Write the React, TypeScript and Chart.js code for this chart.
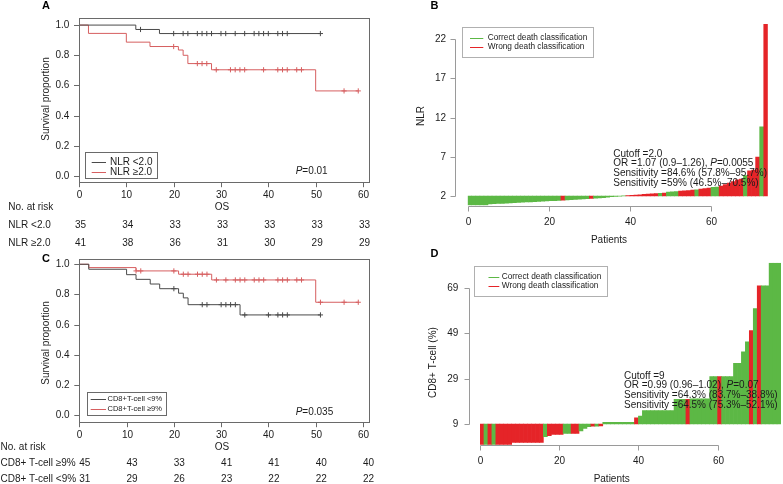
import { useEffect, useRef } from "react";
import { Chart, registerables } from "chart.js";

Chart.register(...registerables);

// ---------------- data ----------------
const kmTimeTicks = [0, 10, 20, 30, 40, 50, 60];
const kmSurvTicks = [0, 0.2, 0.4, 0.6, 0.8, 1.0];
const kmSurvTickLabels = ["0.0", "0.2", "0.4", "0.6", "0.8", "1.0"];

// Panel A: NLR
const nlrLowTimes = [0, 12, 17, 51];
const nlrLowSurv = [1, 0.971, 0.944, 0.944];
const nlrLowCensor = [13, 20, 22, 23, 25, 26, 27, 28, 30, 31, 33, 35, 37, 38, 39, 40, 42, 43, 44, 51];
const nlrHighTimes = [0, 2, 10, 15, 21, 22, 23, 28, 50, 59];
const nlrHighSurv = [1, 0.945, 0.887, 0.858, 0.835, 0.8, 0.745, 0.704, 0.564, 0.564];
const nlrHighCensor = [20, 25, 26, 27, 29, 32, 33, 34, 35, 39, 42, 43, 44, 46, 47, 56, 59];
const riskNlrLow = [35, 34, 33, 33, 33, 33, 33];
const riskNlrHigh = [41, 38, 36, 31, 30, 29, 29];

// Panel C: CD8+ T-cell
const cd8LowTimes = [0, 2, 10, 12, 15, 17, 21, 22, 23, 34, 51];
const cd8LowSurv = [1, 0.967, 0.931, 0.9, 0.869, 0.838, 0.808, 0.777, 0.732, 0.664, 0.664];
const cd8LowCensor = [20, 26, 27, 30, 31, 32, 33, 35, 40, 42, 43, 44, 51];
const cd8HighTimes = [0, 2, 12, 21, 28, 50, 59];
const cd8HighSurv = [1, 0.978, 0.956, 0.934, 0.896, 0.748, 0.748];
const cd8HighCensor = [12, 13, 20, 22, 23, 25, 26, 27, 29, 31, 33, 34, 35, 37, 38, 39, 42, 43, 44, 46, 47, 51, 56, 59];
const riskCd8High = [45, 43, 33, 41, 41, 40, 40];
const riskCd8Low = [31, 29, 26, 23, 22, 22, 22];

// Panel B: NLR waterfall (baseline = cutoff 2.0)
const patientTicks = [0, 20, 40, 60];
const nlrCutoff = 2.0;
const nlrYTicks = [2, 7, 12, 17, 22];
const nlrValues = [
  0.85, 0.85, 0.86, 0.86, 0.87, 0.98, 1.01, 1.04, 1.07, 1.1,
  1.13, 1.15, 1.18, 1.2, 1.23, 1.25, 1.28, 1.3, 1.33, 1.36,
  1.39, 1.42, 1.45, 1.48, 1.5, 1.53, 1.56, 1.59, 1.62, 1.65,
  1.68, 1.72, 1.76, 1.8, 1.85, 1.9, 1.96, 1.99, 2.02, 2.05,
  2.08, 2.12, 2.16, 2.2, 2.24, 2.28, 2.32, 2.35, 2.38, 2.5,
  2.52, 2.55, 2.62, 2.66, 2.7, 2.75, 2.8, 2.88, 2.95, 3.0,
  3.1, 3.15, 3.25, 3.45, 3.65, 3.85, 4.05, 4.15, 4.6, 5.2,
  5.3, 6.95, 10.8, 23.9,
];
const nlrClass = [
  "C", "C", "C", "C", "C", "C", "C", "C", "C", "C",
  "C", "C", "C", "C", "C", "C", "C", "C", "C", "C",
  "C", "C", "C", "W", "C", "C", "C", "C", "C", "C",
  "W", "C", "C", "C", "C", "C", "C", "C", "C", "W",
  "W", "W", "W", "W", "W", "W", "W", "C", "W", "C",
  "C", "C", "W", "W", "W", "W", "C", "W", "W", "W",
  "C", "C", "W", "W", "W", "W", "W", "W", "C", "W",
  "W", "W", "C", "W",
];

// Panel D: CD8+ T-cell waterfall (baseline = cutoff 9)
const cd8Cutoff = 9;
const cd8YTicks = [9, 29, 49, 69];
const cd8Values = [
  0, 0, 0, 0, 0, 0, 0, 0, 0.9, 0.9,
  0.9, 0.9, 0.9, 0.9, 0.9, 0.9, 3.4, 3.9, 4.4, 4.4,
  4.4, 4.9, 4.9, 4.9, 4.9, 5.9, 7.1, 7.8, 8.1, 8.1,
  8.2, 9.7, 9.7, 9.7, 9.7, 9.7, 9.7, 9.7, 9.7, 11.7,
  12.5, 14.9, 14.9, 14.9, 14.9, 14.9, 14.9, 14.9, 14.9, 19.9,
  19.9, 19.9, 19.9, 20.1, 20.1, 20.1, 20.1, 20.1, 29.9, 29.9,
  29.9, 29.9, 29.9, 29.9, 35.8, 35.8, 40.9, 45.3, 50.2, 60,
  70, 70, 70, 80, 80, 80,
];
const cd8Class = [
  "W", "C", "W", "C", "W", "W", "W", "W", "W", "W",
  "W", "W", "W", "W", "W", "W", "C", "W", "W", "W",
  "W", "C", "C", "W", "W", "C", "C", "C", "W", "C",
  "W", "C", "C", "C", "C", "C", "C", "C", "C", "W",
  "C", "C", "C", "C", "C", "C", "C", "C", "C", "C",
  "C", "C", "W", "C", "C", "C", "C", "C", "C", "C",
  "W", "C", "C", "C", "C", "C", "C", "C", "W", "C",
  "W", "C", "C", "C", "C", "C",
];

// ---------------- styles / layout ----------------
const W = 783;
const H = 484;
const FONT = '"Liberation Sans", Arial, Helvetica, sans-serif';
const TXT = "#1c1c1c";
const KM_BLACK = "#4a4a4a";
const KM_RED = "#d65f60";
const BAR_GREEN = "#5cb845";
const BAR_RED = "#e52428";
const BOX = "#6a6a6a";
const AXIS_LIGHT = "#9a9a9a";

type Ctx = CanvasRenderingContext2D;

function txt(ctx: Ctx, s: string, x: number, y: number, size: number, align: CanvasTextAlign = "left", style = "", color = TXT) {
  ctx.font = `${style ? style + " " : ""}${size}px ${FONT}`;
  ctx.fillStyle = color;
  ctx.textAlign = align;
  ctx.textBaseline = "middle";
  ctx.fillText(s, x, y);
}
function vtxt(ctx: Ctx, s: string, x: number, y: number, size: number) {
  ctx.save();
  ctx.translate(x, y);
  ctx.rotate(-Math.PI / 2);
  txt(ctx, s, 0, 0, size, "center");
  ctx.restore();
}
function rich(ctx: Ctx, parts: [string, boolean][], x: number, y: number, size: number) {
  let cx = x;
  for (const [s, it] of parts) {
    txt(ctx, s, cx, y, size, "left", it ? "italic" : "");
    cx += ctx.measureText(s).width;
  }
}
function seg(ctx: Ctx, x1: number, y1: number, x2: number, y2: number, color: string, w = 1) {
  ctx.beginPath();
  ctx.strokeStyle = color;
  ctx.lineWidth = w;
  ctx.moveTo(x1, y1);
  ctx.lineTo(x2, y2);
  ctx.stroke();
}
const px = (v: number) => Math.round(v) + 0.5;

function survAt(times: number[], surv: number[], t: number) {
  let s = surv[0];
  for (let i = 0; i < times.length; i++) if (times[i] <= t) s = surv[i];
  return s;
}

type KMPanel = {
  letter: string;
  letterPos: [number, number];
  area: { left: number; right: number; top: number; bottom: number };
  xMax: number;
  yMin: number;
  yMax: number;
  curves: { times: number[]; surv: number[]; censor: number[]; color: string }[];
  legend: { box: [number, number, number, number]; items: { label: string; color: string; y: number }[]; lineX: [number, number]; textX: number; size: number };
  pText: { parts: [string, boolean][]; x: number; y: number };
  titleY: number;
  osY: number;
  noRiskX: number;
  rows: { label: string; values: number[]; y: number }[];
  riskOffset: number;
};

function makeKM(canvas: HTMLCanvasElement, p: KMPanel) {
  const datasets: any[] = [];
  p.curves.forEach((c) => {
    datasets.push({
      data: c.times.map((t, i) => ({ x: t, y: c.surv[i] })),
      borderColor: c.color,
      borderWidth: 1,
      pointRadius: 0,
      stepped: "before",
      fill: false,
    });
  });
  p.curves.forEach((c) => {
    datasets.push({
      data: c.censor.map((t) => ({ x: t, y: survAt(c.times, c.surv, t) })),
      showLine: false,
      pointStyle: "cross",
      pointRadius: 2.6,
      pointBorderWidth: 1,
      borderColor: c.color,
      backgroundColor: c.color,
    });
  });
  const a = p.area;
  return new Chart(canvas, {
    type: "line",
    data: { datasets },
    options: {
      responsive: false,
      animation: false,
      events: [],
      layout: { padding: { left: a.left, right: W - a.right, top: a.top, bottom: H - a.bottom } },
      scales: {
        x: { type: "linear", min: 0, max: p.xMax, display: false },
        y: { type: "linear", min: p.yMin, max: p.yMax, display: false },
      },
      plugins: { legend: { display: false }, tooltip: { enabled: false } },
    },
    plugins: [
      {
        id: "kmDecor",
        afterDraw(chart: any) {
          const ctx: Ctx = chart.ctx;
          const ca = chart.chartArea;
          const xs = chart.scales.x;
          const ys = chart.scales.y;
          ctx.save();
          ctx.strokeStyle = BOX;
          ctx.lineWidth = 1;
          ctx.strokeRect(px(ca.left), px(ca.top), Math.round(ca.right - ca.left), Math.round(ca.bottom - ca.top));
          kmSurvTicks.forEach((v, i) => {
            const y = px(ys.getPixelForValue(v));
            seg(ctx, ca.left - 5, y, ca.left, y, BOX);
            txt(ctx, kmSurvTickLabels[i], ca.left - 9.7, y, 10, "right");
          });
          kmTimeTicks.forEach((t) => {
            const x = px(xs.getPixelForValue(t));
            seg(ctx, x, ca.bottom, x, ca.bottom + 4.5, BOX);
            txt(ctx, String(t), x, ca.bottom + 12.3, 10, "center");
          });
          vtxt(ctx, "Survival proportion", 46.7, p.titleY, 10);
          txt(ctx, p.letter, p.letterPos[0], p.letterPos[1], 11, "center", "bold", "#000");
          // legend
          const [bx, by, bw, bh] = p.legend.box;
          ctx.fillStyle = "#fff";
          ctx.fillRect(bx, by, bw, bh);
          ctx.strokeStyle = BOX;
          ctx.strokeRect(px(bx), px(by), Math.round(bw), Math.round(bh));
          p.legend.items.forEach((it) => {
            seg(ctx, p.legend.lineX[0], px(it.y), p.legend.lineX[1], px(it.y), it.color);
            txt(ctx, it.label, p.legend.textX, it.y, p.legend.size, "left");
          });
          rich(ctx, p.pText.parts, p.pText.x, p.pText.y, 10);
          // at-risk table
          txt(ctx, "No. at risk", p.noRiskX, p.osY, 10, "left");
          txt(ctx, "OS", 222, p.osY, 10, "center");
          p.rows.forEach((r) => {
            txt(ctx, r.label, p.noRiskX, r.y, 10, "left");
            r.values.forEach((v, i) => {
              txt(ctx, String(v), xs.getPixelForValue(kmTimeTicks[i]) + p.riskOffset, r.y, 10, "center");
            });
          });
          ctx.restore();
        },
      },
    ],
  } as any);
}

type WFPanel = {
  letter: string;
  letterPos: [number, number];
  area: { left: number; right: number; top: number; bottom: number };
  n: number;
  yMin: number;
  yMax: number;
  base: number;
  values: number[];
  cls: string[];
  yTicks: number[];
  axisX: number;
  axisY: number;
  yLabelGap: number;
  xLabelY: number;
  xTitleY: number;
  xTitleX: number;
  yTitle: string;
  yTitlePos: [number, number];
  legend: { box: [number, number, number, number]; y: [number, number]; lineX: [number, number]; textX: number };
  notes: { parts: [string, boolean][]; y: number }[];
  notesX: number;
};

function makeWaterfall(canvas: HTMLCanvasElement, p: WFPanel) {
  const a = p.area;
  return new Chart(canvas, {
    type: "bar",
    data: {
      datasets: [
        {
          data: p.values.map((v, i) => ({ x: i + 0.5, y: [p.base, v] })),
          backgroundColor: p.cls.map((c) => (c === "W" ? BAR_RED : BAR_GREEN)),
          borderWidth: 0,
          barPercentage: 1,
          categoryPercentage: 1,
          grouped: false,
        },
      ],
    },
    options: {
      responsive: false,
      animation: false,
      events: [],
      layout: { padding: { left: a.left, right: W - a.right, top: a.top, bottom: H - a.bottom } },
      scales: {
        x: { type: "linear", min: 0, max: p.n, offset: false, display: false },
        y: { type: "linear", min: p.yMin, max: p.yMax, display: false },
      },
      plugins: { legend: { display: false }, tooltip: { enabled: false } },
    },
    plugins: [
      {
        id: "wfDecor",
        afterDraw(chart: any) {
          const ctx: Ctx = chart.ctx;
          const xs = chart.scales.x;
          const ys = chart.scales.y;
          ctx.save();
          // y axis
          const ax = px(p.axisX);
          const yTop = ys.getPixelForValue(p.yTicks[p.yTicks.length - 1]);
          const yBot = ys.getPixelForValue(p.yTicks[0]);
          seg(ctx, ax, px(yTop), ax, px(yBot), AXIS_LIGHT);
          p.yTicks.forEach((v) => {
            const y = px(ys.getPixelForValue(v));
            seg(ctx, ax - 5, y, ax, y, AXIS_LIGHT);
            txt(ctx, String(v), p.axisX - p.yLabelGap, y, 10, "right");
          });
          // x axis
          const ay = px(p.axisY);
          const x0 = xs.getPixelForValue(patientTicks[0]);
          const x1 = xs.getPixelForValue(patientTicks[patientTicks.length - 1]);
          seg(ctx, px(x0), ay, px(x1), ay, AXIS_LIGHT);
          patientTicks.forEach((t) => {
            const x = px(xs.getPixelForValue(t));
            seg(ctx, x, ay, x, ay + 5, AXIS_LIGHT);
            txt(ctx, String(t), x, p.xLabelY, 10, "center");
          });
          txt(ctx, "Patients", p.xTitleX, p.xTitleY, 10, "center");
          vtxt(ctx, p.yTitle, p.yTitlePos[0], p.yTitlePos[1], 10);
          txt(ctx, p.letter, p.letterPos[0], p.letterPos[1], 11, "center", "bold", "#000");
          // legend
          const [bx, by, bw, bh] = p.legend.box;
          ctx.fillStyle = "#fff";
          ctx.fillRect(bx, by, bw, bh);
          ctx.strokeStyle = "#b0b0b0";
          ctx.lineWidth = 1;
          ctx.strokeRect(px(bx), px(by), Math.round(bw), Math.round(bh));
          seg(ctx, p.legend.lineX[0], px(p.legend.y[0]), p.legend.lineX[1], px(p.legend.y[0]), BAR_GREEN);
          seg(ctx, p.legend.lineX[0], px(p.legend.y[1]), p.legend.lineX[1], px(p.legend.y[1]), BAR_RED);
          txt(ctx, "Correct death classification", p.legend.textX, p.legend.y[0], 8.3, "left");
          txt(ctx, "Wrong death classification", p.legend.textX, p.legend.y[1], 8.3, "left");
          // notes
          p.notes.forEach((nt) => rich(ctx, nt.parts, p.notesX, nt.y, 10));
          ctx.restore();
        },
      },
    ],
  } as any);
}

const panelA: KMPanel = {
  letter: "A",
  letterPos: [46, 5.5],
  area: { left: 79, right: 369, top: 18.3, bottom: 182.7 },
  xMax: 61.27,
  yMin: -0.044,
  yMax: 1.045,
  curves: [
    { times: nlrLowTimes, surv: nlrLowSurv, censor: nlrLowCensor, color: KM_BLACK },
    { times: nlrHighTimes, surv: nlrHighSurv, censor: nlrHighCensor, color: KM_RED },
  ],
  legend: {
    box: [85, 152.3, 71.7, 26],
    items: [
      { label: "NLR <2.0", color: KM_BLACK, y: 162.3 },
      { label: "NLR \u22652.0", color: KM_RED, y: 172 },
    ],
    lineX: [91.7, 106],
    textX: 110,
    size: 10,
  },
  pText: { parts: [["P", true], ["=0.01", false]], x: 295.7, y: 171.7 },
  titleY: 99,
  osY: 207,
  noRiskX: 8.3,
  rows: [
    { label: "NLR <2.0", values: riskNlrLow, y: 225 },
    { label: "NLR \u22652.0", values: riskNlrHigh, y: 243 },
  ],
  riskOffset: 1.5,
};

const panelC: KMPanel = {
  letter: "C",
  letterPos: [46, 259],
  area: { left: 79.3, right: 369, top: 259.3, bottom: 422.7 },
  xMax: 61.27,
  yMin: -0.051,
  yMax: 1.033,
  curves: [
    { times: cd8LowTimes, surv: cd8LowSurv, censor: cd8LowCensor, color: KM_BLACK },
    { times: cd8HighTimes, surv: cd8HighSurv, censor: cd8HighCensor, color: KM_RED },
  ],
  legend: {
    box: [87.3, 391.7, 79.4, 23.3],
    items: [
      { label: "CD8+T-cell <9%", color: KM_BLACK, y: 399.3 },
      { label: "CD8+T-cell \u22659%", color: KM_RED, y: 409.3 },
    ],
    lineX: [90.7, 106],
    textX: 107.5,
    size: 7.5,
  },
  pText: { parts: [["P", true], ["=0.035", false]], x: 295.7, y: 412.3 },
  titleY: 343,
  osY: 447,
  noRiskX: 0.5,
  rows: [
    { label: "CD8+ T-cell \u22659%", values: riskCd8High, y: 463 },
    { label: "CD8+ T-cell <9%", values: riskCd8Low, y: 479 },
  ],
  riskOffset: 5.5,
};

const panelB: WFPanel = {
  letter: "B",
  letterPos: [434.5, 6],
  area: { left: 467.7, right: 767.8, top: 24, bottom: 205.7 },
  n: nlrValues.length,
  yMin: 0.764,
  yMax: 23.92,
  base: nlrCutoff,
  values: nlrValues,
  cls: nlrClass,
  yTicks: nlrYTicks,
  axisX: 455,
  yLabelGap: 9,
  axisY: 205.7,
  xLabelY: 222.5,
  xTitleY: 240,
  xTitleX: 609,
  yTitle: "NLR",
  yTitlePos: [421.7, 116],
  legend: { box: [461.7, 27, 131.3, 30], y: [37.7, 47], lineX: [470, 483.3], textX: 487.7 },
  notes: [
    { parts: [["Cutoff =2.0", false]], y: 154 },
    { parts: [["OR =1.07 (0.9\u20131.26), ", false], ["P", true], ["=0.0055", false]], y: 163.3 },
    { parts: [["Sensitivity =84.6% (57.8%\u201395.7%)", false]], y: 173.3 },
    { parts: [["Sensitivity =59% (46.5%\u201370.5%)", false]], y: 183.7 },
  ],
  notesX: 613.3,
};

const panelD: WFPanel = {
  letter: "D",
  letterPos: [434.5, 253.5],
  area: { left: 480, right: 781, top: 262.7, bottom: 445 },
  n: cd8Values.length,
  yMin: -0.26,
  yMax: 80.2,
  base: cd8Cutoff,
  values: cd8Values,
  cls: cd8Class,
  yTicks: cd8YTicks,
  axisX: 469.3,
  yLabelGap: 11,
  axisY: 445,
  xLabelY: 461.7,
  xTitleY: 479,
  xTitleX: 611.7,
  yTitle: "CD8+ T-cell (%)",
  yTitlePos: [433.3, 362.5],
  legend: { box: [474, 266, 132.7, 30], y: [276.7, 285.7], lineX: [488.5, 499.3], textX: 501.7 },
  notes: [
    { parts: [["Cutoff =9", false]], y: 376 },
    { parts: [["OR =0.99 (0.96\u20131.02), ", false], ["P", true], ["=0.07", false]], y: 385.7 },
    { parts: [["Sensitivity =64.3% (83.7%\u201338.8%)", false]], y: 395 },
    { parts: [["Sensitivity =64.5% (75.3%\u201352.1%)", false]], y: 405.7 },
  ],
  notesX: 624,
};

export default function App() {
  const rA = useRef<HTMLCanvasElement>(null);
  const rB = useRef<HTMLCanvasElement>(null);
  const rC = useRef<HTMLCanvasElement>(null);
  const rD = useRef<HTMLCanvasElement>(null);
  useEffect(() => {
    const charts = [
      makeKM(rA.current!, panelA),
      makeWaterfall(rB.current!, panelB),
      makeKM(rC.current!, panelC),
      makeWaterfall(rD.current!, panelD),
    ];
    return () => charts.forEach((c) => c.destroy());
  }, []);
  const cs: React.CSSProperties = { position: "absolute", left: 0, top: 0, width: W, height: H };
  return (
    <div style={{ position: "absolute", left: 0, top: 0, width: W, height: H, background: "#fff", overflow: "hidden" }}>
      <canvas ref={rA} width={W} height={H} style={cs} />
      <canvas ref={rB} width={W} height={H} style={cs} />
      <canvas ref={rC} width={W} height={H} style={cs} />
      <canvas ref={rD} width={W} height={H} style={cs} />
    </div>
  );
}
